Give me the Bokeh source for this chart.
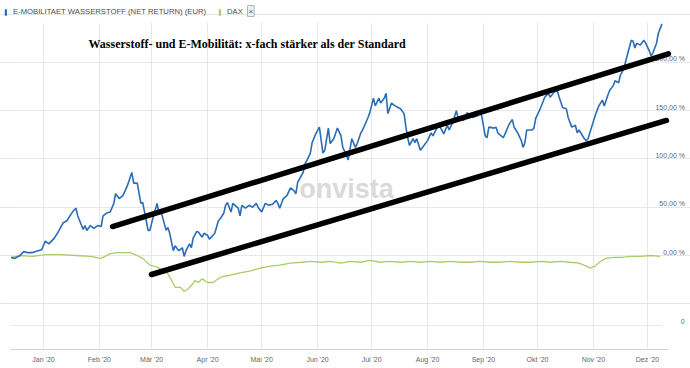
import pandas as pd
from bokeh.plotting import figure
from bokeh.models import (Range1d, FixedTicker, LinearAxis, Grid, Label, Legend,
                          LegendItem, Arrow, ColumnDataSource)
from bokeh.embed import file_html
from bokeh.resources import INLINE

# ---------------- data (day offset from 2020-01-01, performance in %) -------------
blue_name = "E-MOBILITAET WASSERSTOFF (NET RETURN) (EUR)"
dax_name = "DAX"
title_text = "Wasserstoff- und E-Mobilität: x-fach stärker als der Standard"

blue_day = [
    -18, -16, -13, -11, -9, -6, -3, -1, 1, 3,
    6, 8, 11, 13, 16, 18, 19, 22, 23, 24,
    26, 28, 30, 32, 33, 35, 37, 39, 40, 42,
    44, 46, 47, 49, 50, 52, 54, 55, 57, 58,
    59, 61, 63, 64, 65, 67, 68, 69, 70, 72,
    73, 75, 77, 78, 79, 81, 82, 83, 85, 86,
    88, 89, 91, 92, 94, 95, 97, 98, 100, 101,
    102, 104, 105, 108, 109, 110, 112, 114, 116, 118,
    119, 121, 123, 125, 127, 129, 130, 131, 133, 135,
    137, 139, 140, 141, 144, 145, 146, 148, 149, 151,
    153, 155, 156, 158, 159, 161, 163, 165, 166, 168,
    169, 171, 173, 174, 176, 177, 180, 181, 183, 184,
    186, 187, 189, 190, 191, 193, 195, 198, 200, 201,
    202, 203, 205, 206, 207, 209, 211, 213, 215, 216,
    219, 220, 222, 224, 225, 227, 229, 230, 231, 233,
    235, 236, 238, 241, 242, 243, 245, 246, 247, 250,
    251, 252, 255, 256, 258, 260, 261, 262, 263, 265,
    266, 267, 268, 271, 272, 273, 275, 277, 278, 280,
    281, 283, 285, 286, 288, 290, 291, 293, 295, 296,
    297, 300, 301, 302, 304, 306, 308, 310, 311, 313,
    314, 316, 317, 319, 320, 322, 323, 324, 326, 327,
    328, 329, 331, 333, 334, 336, 337, 338, 340, 341,
    343,
]
blue_pct = [
    -2, -3, 0, 4, 3, 3, 5, 6, 15, 12,
    18, 24, 34, 36, 45, 49, 41, 27, 31, 26,
    31, 28, 31, 30, 41, 44, 45, 54, 64, 59,
    62, 70, 75, 86, 75, 75, 54, 55, 36, 26,
    26, 41, 54, 44, 47, 33, 26, 29, 23, 5,
    10, 5, 8, -1, 5, 12, 8, 18, 25, 24,
    19, 23, 21, 17, 21, 23, 36, 38, 44, 52,
    55, 45, 54, 49, 41, 52, 49, 52, 50, 54,
    50, 45, 54, 52, 53, 57, 54, 49, 59, 62,
    70, 67, 64, 76, 86, 95, 98, 106, 117, 126,
    133, 106, 109, 132, 116, 121, 132, 124, 112, 104,
    99, 121, 112, 116, 127, 130, 143, 148, 163, 155,
    163, 158, 163, 168, 147, 158, 155, 152, 147, 133,
    122, 114, 121, 117, 121, 109, 114, 119, 127, 124,
    135, 133, 126, 135, 130, 138, 150, 142, 143, 140,
    148, 145, 143, 145, 147, 145, 124, 122, 133, 132,
    133, 127, 122, 126, 135, 141, 133, 130, 127, 119,
    112, 117, 130, 130, 132, 142, 150, 159, 164, 168,
    164, 169, 171, 164, 153, 152, 143, 133, 135, 127,
    130, 121, 119, 121, 133, 145, 155, 161, 155, 166,
    171, 176, 181, 179, 187, 194, 202, 209, 223, 222,
    215, 220, 218, 223, 220, 212, 207, 210, 220, 230,
    240,
]

dax_day = [
    -18, -13, -6, 1, 9, 18, 26, 32, 37, 41,
    48, 52, 55, 59, 63, 67, 69, 72, 73, 76,
    78, 80, 83, 84, 86, 88, 91, 94, 97, 99,
    102, 109, 115, 120, 126, 131, 137, 143, 148, 154,
    159, 165, 170, 176, 181, 187, 192, 198, 204, 209,
    215, 220, 226, 231, 237, 242, 248, 253, 259, 265,
    270, 276, 281, 287, 292, 297, 301, 303, 306, 309,
    312, 316, 320, 326, 331, 337, 342,
]
dax_pct = [
    -2, 0, -1, 1, 1, 0, -1, -3, 2, 3,
    3, 0, -3, -10, -12, -16, -19, -29, -33, -33,
    -37, -35, -29, -26, -28, -24, -28, -28, -24, -22,
    -21, -18, -16, -13, -11, -10, -8, -7, -6, -7,
    -6, -8, -6, -7, -5, -7, -6, -7, -6, -7,
    -6, -7, -6, -7, -7, -6, -7, -7, -6, -7,
    -7, -6, -7, -6, -7, -8, -11, -13, -11, -6,
    -3, -2, -2, -1, -1, 0, -1,
]

# hand-drawn trend channel (start/end day, start/end %)
channel_x0 = [38.3, 59.9]
channel_y0 = [30.0, -19.7]
channel_x1 = [346.6, 345.5]
channel_y1 = [209.0, 139.9]

month_labels = ["Jan '20", "Feb '20", "Mär '20", "Apr '20", "Mai '20", "Jun '20",
                "Jul '20", "Aug '20", "Sep '20", "Okt '20", "Nov '20", "Dez '20"]
y_ticks = [-72.5, 0, 50, 100, 150, 200]
y_tick_labels = ["0", "0,00 %", "50,00 %", "100,00 %", "150,00 %", "200,00 %"]

# chart area (data extent of the grid) and full canvas extent
grid_x0, grid_x1 = -18.3, 343.3
grid_y0, grid_y1 = -97.4, 241.5
view_x0, view_x1 = -23.85, 358.85
view_y1 = 264.2

# ---------------- figure ---------------------------------------------------------
month_days = [int(d) for d in (pd.date_range("2020-01-01", periods=12, freq="MS")
                               - pd.Timestamp("2020-01-01")).days]

BLUE = "#2b6cb6"
GREEN = "#a9cd66"
GRID = "#e8e8e8"
TICK_TXT = "#666666"
FONT = "Liberation Sans"
FSP = "\u2007"   # figure space (digit width) used to right-align the value labels
PSP = "\u2008"   # punctuation space


def right_align(label, widest="200,00 %"):
    pad = FSP * (sum(c.isdigit() for c in widest) - sum(c.isdigit() for c in label))
    for c in (",", " "):
        pad += PSP * (widest.count(c) - label.count(c))
    pad += (FSP + PSP) * (widest.count("%") - label.count("%"))
    return pad + label


p = figure(width=690, height=368, output_backend="svg", toolbar_location=None,
           x_range=Range1d(view_x0, view_x1), y_range=Range1d(grid_y0, view_y1),
           y_axis_location=None,
           min_border_left=0, min_border_right=0, min_border_top=0, min_border_bottom=19,
           background_fill_color="white", border_fill_color="white",
           outline_line_color=None,
           styles={"position": "absolute", "left": "0px", "top": "0px"})

# x axis
xa = p.xaxis[0]
xa.ticker = FixedTicker(ticks=month_days)
xa.major_label_overrides = dict(zip(month_days, month_labels))
xa.bounds = (grid_x0, channel_x1[0])
xa.axis_line_color = "#ccd6eb"
xa.major_tick_line_color = None
xa.minor_tick_line_color = None
xa.major_tick_out = 0
xa.major_label_standoff = 6
xa.major_label_text_font_size = "7px"
xa.major_label_text_color = TICK_TXT
xa.major_label_text_font = FONT
p.xgrid.grid_line_color = GRID
p.xgrid.ticker = FixedTicker(ticks=month_days)
p.xgrid.cross_bounds = (grid_y0, grid_y1)

# y axis on the right (labels sit just above their grid line)
label_lift = 3.6
y_label_pos = [t + label_lift for t in y_ticks]
ya = LinearAxis(ticker=FixedTicker(ticks=y_label_pos),
                major_label_overrides={k: right_align(v) for k, v in zip(y_label_pos, y_tick_labels)},
                fixed_location=grid_x1,
                axis_line_color=None, major_tick_line_color=None,
                minor_tick_line_color=None, major_tick_out=0, major_tick_in=0,
                major_label_standoff=-7,
                major_label_text_font_size="7px", major_label_text_color=TICK_TXT,
                major_label_text_font=FONT)
p.add_layout(ya, "right")
p.add_layout(Grid(dimension=1, ticker=FixedTicker(ticks=y_ticks), grid_line_color=GRID,
                  cross_bounds=(grid_x0, grid_x1)))

# watermark
p.add_layout(Label(x=346, y=161, x_units="screen", y_units="screen", text="onvista",
                   text_align="center", text_baseline="middle", text_font_size="27px",
                   text_font_style="bold", text_font=FONT, text_color="#dadada",
                   level="underlay"))

# series
p.line(dax_day, dax_pct, line_color=GREEN, line_width=1.3)
p.line(blue_day, blue_pct, line_color=BLUE, line_width=1.6)

# trend channel
ch = ColumnDataSource(dict(x0=channel_x0, y0=channel_y0, x1=channel_x1, y1=channel_y1))
p.add_layout(Arrow(end=None, source=ch, x_start="x0", y_start="y0", x_end="x1", y_end="y1",
                   line_color="black", line_width=5.5, line_cap="round"))

# title
p.add_layout(Label(x=88, y=306, x_units="screen", y_units="screen", text=title_text,
                   text_baseline="middle", text_font="Liberation Serif",
                   text_font_style="bold", text_font_size="12px", text_color="black"))

# legend (top row): zero-height bar proxies supply the coloured legend markers
lb = p.vbar(x=blue_day[:1], top=blue_pct[:1], bottom=blue_pct[:1], width=0,
            fill_color=BLUE, line_color=None)
lg = p.vbar(x=dax_day[:1], top=dax_pct[:1], bottom=dax_pct[:1], width=0,
            fill_color=GREEN, line_color=None)
legend = Legend(items=[LegendItem(label=blue_name, renderers=[lb]),
                       LegendItem(label=dax_name, renderers=[lg])],
                orientation="horizontal", location=(4, 333),
                glyph_width=3, glyph_height=8, label_height=8, label_standoff=6,
                spacing=12, padding=0, margin=0,
                label_text_font_size="7.7px", label_text_font=FONT,
                label_text_color="#4d4d4d", border_line_color=None,
                background_fill_alpha=0)
p.add_layout(legend, "center")
p.add_layout(Label(x=247, y=333, x_units="screen", y_units="screen", text="×",
                   text_font_size="8px", text_color="#555555", text_font=FONT,
                   border_line_color="#b5b5b5", background_fill_color="#eeeeee",
                   padding=1))

open("out.html", "w").write(file_html(p, INLINE))
